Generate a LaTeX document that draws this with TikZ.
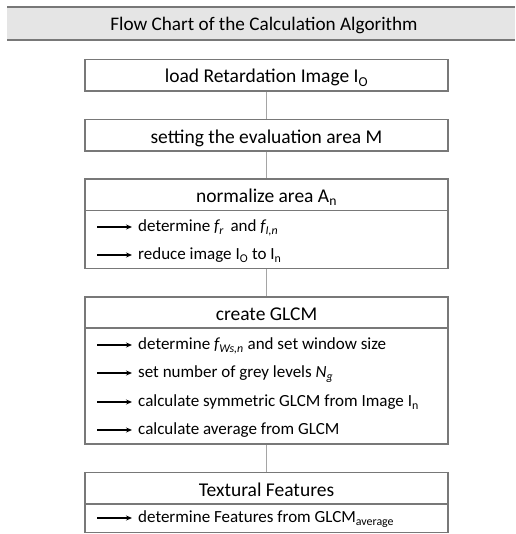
\documentclass[tikz,border=0pt]{standalone}
\usepackage{fontspec}
\setmainfont{Carlito}
\usetikzlibrary{arrows.meta}
\definecolor{boxgray}{RGB}{120,120,120}
\definecolor{linegray}{RGB}{165,165,165}
\definecolor{titlefill}{RGB}{229,229,229}
\tikzset{
  boxline/.style={draw=boxgray,line width=1.3pt},
  conn/.style={draw=linegray,line width=0.9pt},
  headtext/.style={font=\fontsize{19.5}{23}\selectfont,anchor=base,inner sep=0pt},
  itemtext/.style={font=\fontsize{17}{20}\selectfont,anchor=base west,inner sep=0pt},
  itemarrow/.style={-{Stealth[length=6pt,width=5pt]},line width=1.3pt,black,shorten >=6pt},
}
\begin{document}
\begin{tikzpicture}[x=1pt,y=-1pt]
\useasboundingbox (0,0) rectangle (515,534);
% title bar
\fill[titlefill] (7,7) rectangle (515,40);
\draw[boxgray,line width=1.3pt] (7,7) -- (515,7);
\draw[boxgray,line width=1.3pt] (7,40) -- (515,40);
\node[font=\fontsize{19.2}{22}\selectfont,inner sep=0pt,anchor=base] (title) at (264,31) {Flow Chart of the Calculation Algorithm};
% box 1
\node[boxline,minimum width=363pt,minimum height=31.5pt,inner sep=0pt] (b1) at (266.5,75.2) {};
\node[headtext] (t1) at (266.5,83) {load Retardation Image I\textsubscript{O}};
% box 2
\node[boxline,minimum width=363pt,minimum height=31.5pt,inner sep=0pt] (b2) at (266.5,135.3) {};
\node[headtext] (t2) at (266.5,143.3) {setting the evaluation area M};
% box 3
\node[boxline,minimum width=363pt,minimum height=89.5pt,inner sep=0pt] (b3) at (266.5,223.8) {};
\coordinate (b3l) at (85,210.5);
\coordinate (b3r) at (448,210.5);
\draw[boxline] (b3l) -- (b3r);
\node[headtext] (t3) at (266.5,202.5) {normalize area A\textsubscript{n}};
\coordinate (a31) at (97,227);
\node[itemtext] (i31) at (138,231.5) {determine \textit{f\textsubscript{r}}\, and \textit{f\textsubscript{I,n}}};
\draw[itemarrow] (a31) -- (a31 -| i31.west);
\coordinate (a32) at (97,255);
\node[itemtext] (i32) at (138,259.5) {reduce image I\textsubscript{O} to I\textsubscript{n}};
\draw[itemarrow] (a32) -- (a32 -| i32.west);
% box 4
\node[boxline,minimum width=363pt,minimum height=147pt,inner sep=0pt] (b4) at (266.5,370.5) {};
\coordinate (b4l) at (85,328);
\coordinate (b4r) at (448,328);
\draw[boxline] (b4l) -- (b4r);
\node[headtext] (t4) at (266.5,320.5) {create GLCM};
\coordinate (a41) at (97,345);
\node[itemtext] (i41) at (138,349.5) {determine \textit{f\textsubscript{Ws,n}} and set window size};
\draw[itemarrow] (a41) -- (a41 -| i41.west);
\coordinate (a42) at (97,373);
\node[itemtext] (i42) at (138,377.5) {set number of grey levels \textit{N\textsubscript{g}}};
\draw[itemarrow] (a42) -- (a42 -| i42.west);
\coordinate (a43) at (97,402);
\node[itemtext] (i43) at (138,406.5) {calculate symmetric GLCM from Image I\textsubscript{n}};
\draw[itemarrow] (a43) -- (a43 -| i43.west);
\coordinate (a44) at (97,430);
\node[itemtext] (i44) at (138,434.5) {calculate average from GLCM};
\draw[itemarrow] (a44) -- (a44 -| i44.west);
% box 5
\node[boxline,minimum width=363pt,minimum height=59.5pt,inner sep=0pt] (b5) at (266.5,502.5) {};
\coordinate (b5l) at (85,504);
\coordinate (b5r) at (448,504);
\draw[boxline] (b5l) -- (b5r);
\node[headtext] (t5) at (266.5,496.5) {Textural Features};
\coordinate (a51) at (97,518);
\node[itemtext] (i51) at (138,522.5) {determine Features from GLCM\textsubscript{average}};
\draw[itemarrow] (a51) -- (a51 -| i51.west);
% connectors
\draw[conn] (b1.south) -- (b2.north);
\draw[conn] (b2.south) -- (b3.north);
\draw[conn] (b3.south) -- (b4.north);
\draw[conn] (b4.south) -- (b5.north);
\end{tikzpicture}
\end{document}
